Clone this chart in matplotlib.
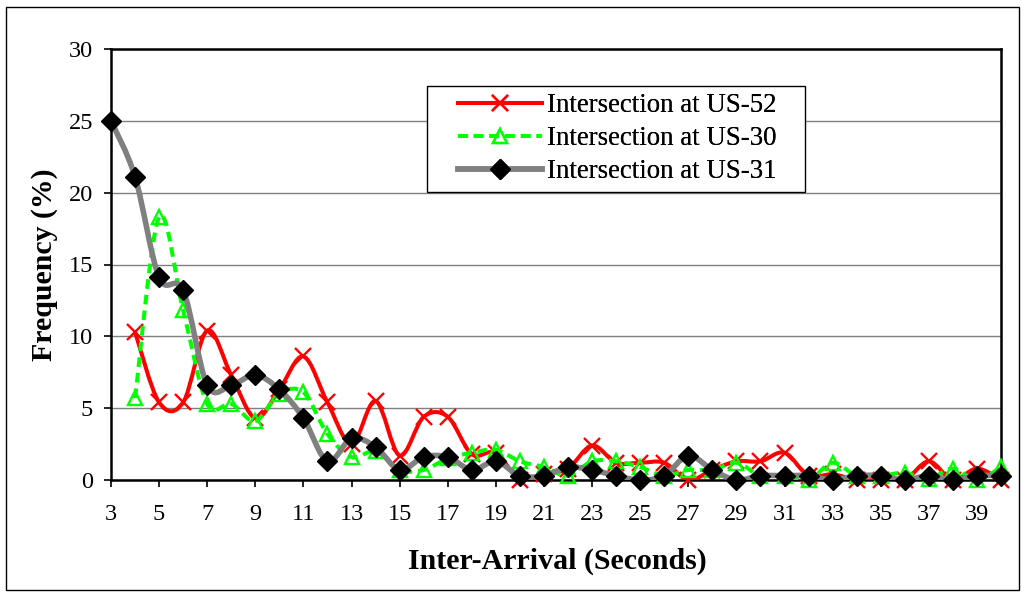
import matplotlib
matplotlib.use("Agg")
import matplotlib.pyplot as plt
import numpy as np
from matplotlib.lines import Line2D
from matplotlib.patches import PathPatch, Rectangle
from matplotlib.path import Path

plt.rcParams["font.family"] = ["Liberation Serif", "DejaVu Serif"]

# inter-arrival time (s) and frequency (%) for each intersection
x_us31 = list(range(3, 41))
us31 = [25.0, 21.1, 14.1, 13.2, 6.6, 6.6, 7.3, 6.3, 4.3, 1.3,
        2.9, 2.3, 0.7, 1.6, 1.6, 0.7, 1.3, 0.3, 0.3, 0.9,
        0.7, 0.3, 0.0, 0.3, 1.7, 0.7, 0.0, 0.3, 0.3, 0.3,
        0.0, 0.3, 0.3, 0.0, 0.3, 0.0, 0.3, 0.3]

x_us52 = list(range(4, 41))
us52 = [10.3, 5.4, 5.4, 10.4, 7.3, 4.3, 6.3, 8.6, 5.4, 2.5,
        5.5, 1.7, 4.4, 4.4, 1.8, 1.9, 0.0, 0.4, 0.8, 2.4,
        1.2, 1.2, 1.2, 0.0, 0.7, 1.3, 1.3, 1.9, 0.3, 0.4,
        0.0, 0.0, 0.0, 1.3, 0.0, 0.8, 0.0]

x_us30 = list(range(4, 41))
us30 = [5.7, 18.3, 11.8, 5.3, 5.3, 4.1, 6.0, 6.1, 3.2, 1.6,
        2.0, 0.7, 0.7, 1.5, 1.9, 2.1, 1.3, 0.9, 0.3, 1.3,
        1.3, 0.9, 0.3, 0.7, 0.7, 1.2, 0.3, 0.3, 0.0, 1.2,
        0.3, 0.3, 0.5, 0.1, 0.8, 0.0, 0.9]

x_ticks = list(range(3, 40, 2))
y_ticks = [0, 5, 10, 15, 20, 25, 30]


def smooth_path(xs, ys):
    # Excel-style smoothed line: cubic Bezier through every point
    pts = np.column_stack([xs, ys]).astype(float)
    n = len(pts)
    verts = [pts[0]]
    codes = [Path.MOVETO]
    for i in range(n - 1):
        p0 = pts[max(i - 1, 0)]
        p1 = pts[i]
        p2 = pts[i + 1]
        p3 = pts[min(i + 2, n - 1)]
        verts += [p1 + (p2 - p0) / 6, p2 - (p3 - p1) / 6, p2]
        codes += [Path.CURVE4] * 3
    return Path(verts, codes)


fig = plt.figure(figsize=(10.26, 5.97), dpi=100)
W, H = 1026, 597
ax = fig.add_axes([111 / W, 1 - 480 / H, 890 / W, 431 / H])

series = [
    (x_us52, us52, dict(color="#ff0000", lw=2.9, ls="-"),
     dict(marker="x", ms=11.5, mew=1.7, mec="#ff0000", mfc="none"), "Intersection at US-52"),
    (x_us30, us30, dict(color="#00ff00", lw=2.9, ls=(0, (2.4, 1.5))),
     dict(marker="^", ms=10.5, mew=1.7, mec="#00ff00", mfc="none"), "Intersection at US-30"),
    (x_us31, us31, dict(color="#808080", lw=4.0, ls="-"),
     dict(marker="D", ms=10, mew=1, mec="black", mfc="black"), "Intersection at US-31"),
]

handles = []
for z, (xs, ys, line_kw, mark_kw, label) in enumerate(series):
    ax.add_patch(PathPatch(smooth_path(xs, ys), fill=False, edgecolor=line_kw["color"],
                           lw=line_kw["lw"], linestyle=line_kw["ls"], capstyle="butt",
                           zorder=3 + 2 * z))
    ax.plot(xs, ys, ls="none", clip_on=False, zorder=4 + 2 * z, **mark_kw)
    handles.append(Line2D([], [], color=line_kw["color"], lw=line_kw["lw"],
                          ls=line_kw["ls"], label=label, **mark_kw))

ax.set_xlim(3, 40)
ax.set_ylim(0, 30)
ax.set_xticks(x_ticks)
ax.set_yticks(y_ticks)
ax.grid(axis="y", color="#808080", lw=1.0)
ax.set_axisbelow(True)
for sp in ax.spines.values():
    sp.set_color("black")
    sp.set_linewidth(1.8)
ax.tick_params(axis="x", direction="out", length=5, width=1.2, labelsize=17.5, pad=12)
ax.tick_params(axis="y", direction="out", length=5, width=1.2, labelsize=17.5, pad=8)

ax.set_xlabel("Inter-Arrival (Seconds)", fontsize=21.5, fontweight="bold")
ax.xaxis.set_label_coords(0.501, -0.158)
ax.set_ylabel("Frequency (%)", fontsize=21.5, fontweight="bold")
ax.yaxis.set_label_coords(-0.06, 0.5)

# legend without its own frame; the box is drawn separately to match the padding
leg = ax.legend(handles=handles, loc="upper left",
                bbox_to_anchor=((458 - 111) / 890, (480 - 93) / 431),
                borderaxespad=0, fontsize=19.4, frameon=False, handlelength=3.1,
                handletextpad=0.22, labelspacing=0.3, borderpad=0.0, numpoints=1)
leg.set_zorder(20)
ax.add_artist(leg)
ax.add_patch(Rectangle((427 / W, 1 - 192 / H), 378 / W, 106 / H, transform=fig.transFigure,
                       facecolor="white", edgecolor="black", lw=1.0, zorder=19,
                       clip_on=False))

# outer chart border
fig.patches.append(Rectangle((6 / W, 7 / H), 1013 / W, 583 / H, transform=fig.transFigure,
                             fill=False, edgecolor="black", lw=1.0))

fig.savefig("out.png", dpi=100)
